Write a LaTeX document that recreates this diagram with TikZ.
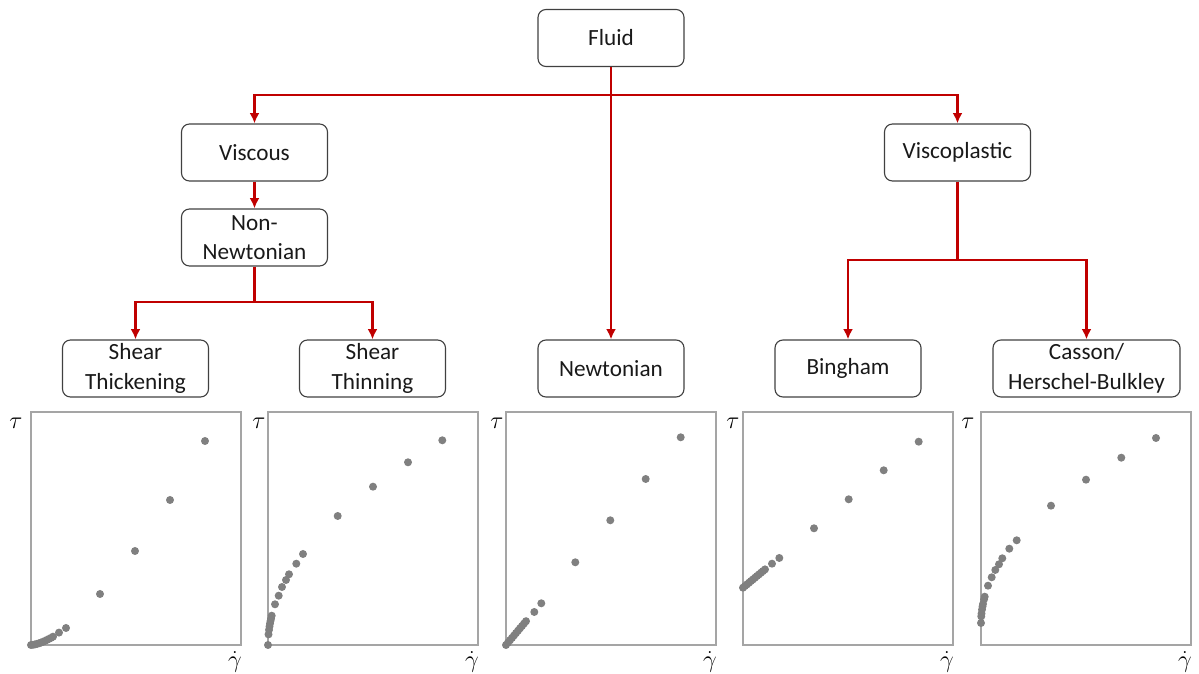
\documentclass[tikz,border=0pt]{standalone}
\usepackage{fontspec}
\setmainfont{Carlito}
\usetikzlibrary{arrows.meta}
\definecolor{branchred}{RGB}{192,0,0}
\definecolor{framegray}{RGB}{165,165,165}
\definecolor{dotgray}{RGB}{128,128,128}
\tikzset{
  box/.style={draw=black!75, line width=0.8pt, rounded corners=0.2cm,
    minimum width=3.65cm, minimum height=1.425cm, align=center, inner sep=1pt,
    font=\fontsize{16.5}{21}\selectfont, text=black!90},
  link/.style={draw=branchred, line width=1.9pt},
  tip/.style={link, -{Latex[length=2.6mm,width=2.5mm]}},
  frame/.style={draw=framegray, line width=1pt},
  dot/.style={fill=dotgray},
  axlabel/.style={font=\fontsize{18}{20}\selectfont, inner sep=0pt}
}
\begin{document}
\begin{tikzpicture}[x=0.025cm,y=0.025cm]
  \useasboundingbox (0,0) rectangle (1199,674);

  % tree of fluid types
  \node[box] (fluid) at (611,636) {Fluid};
  \node[box] (viscous) at (254.5,521.5) {Viscous};
  \node[box] (viscoplastic) at (957.5,521.5) {Viscoplastic};
  \node[box] (nonnewt) at (254.5,436.5) {Non-\\Newtonian};
  \node[box] (thicken) at (135.5,305.5) {Shear\\Thickening};
  \node[box] (thin) at (372.5,305.5) {Shear\\Thinning};
  \node[box] (newton) at (611,305.5) {Newtonian};
  \node[box] (bingham) at (848,305.5) {Bingham};
  \node[box,minimum width=4.675cm] (casson) at (1086.5,305.5) {Casson/\\Herschel-Bulkley};

  \coordinate (split) at (611,579);
  \coordinate (nsplit) at (254.5,372);
  \coordinate (vsplit) at (957.5,414);

  \draw[tip] (fluid.south) -- (newton.north);
  \draw[tip] (split) -| (viscous.north);
  \draw[tip] (split) -| (viscoplastic.north);
  \draw[tip] (viscous.south) -- (nonnewt.north);
  \draw[link] (nonnewt.south) -- (nsplit);
  \draw[tip] (nsplit) -| (thicken.north);
  \draw[tip] (nsplit) -| (thin.north);
  \draw[link] (viscoplastic.south) -- (vsplit);
  \draw[tip] (vsplit) -| (bingham.north);
  \draw[tip] (vsplit) -| (casson.north);

  % flow curves
  \begin{scope}[shift={(31,29)}]
    \draw[frame] (0,0) rectangle (210,233);
    \node[axlabel] (tau1) at (-15,222) {$\tau$};
    \node[axlabel] (gam1) at (204,-17) {$\dot\gamma$};
    \foreach \x/\y in {0/0,2/0.2,4/0.6,6/1.1,8/1.7,10/2.4,12/3.2,14/4.1,16/5.1,
        18/6.1,20/7.1,22/8.3,28/12.4,35/17,69/51,104/94,139/145,174/204}
      \fill[dot] (\x,\y) circle[radius=0.1cm];
  \end{scope}

  \begin{scope}[shift={(268,29)}]
    \draw[frame] (0,0) rectangle (210,233);
    \node[axlabel] (tau2) at (-9,222) {$\tau$};
    \node[axlabel] (gam2) at (204,-17) {$\dot\gamma$};
    \foreach \x/\y in {0/0,0.5/10.6,1/15.1,1.5/18.5,2/21.4,2.5/24,3/26.3,3.7/29.3,
        7/40.7,10.7/49.3,14/58,18/65,21/70.7,28.3/81.3,35/91,69.7/129,105/158.3,
        140/182.7,174.3/204.7}
      \fill[dot] (\x,\y) circle[radius=0.1cm];
  \end{scope}

  \begin{scope}[shift={(506,29)}]
    \draw[frame] (0,0) rectangle (210,233);
    \node[axlabel] (tau3) at (-9,222) {$\tau$};
    \node[axlabel] (gam3) at (204,-17) {$\dot\gamma$};
    \foreach \x/\y in {0/0,2/2.4,4/4.8,6/7.1,8/9.5,10/11.9,12/14.3,14/16.7,16/19,
        18/21.4,20/23.8,28.3/33,35.3/41.7,69.3/82.7,104.3/124.7,139.7/166,174.7/207.7}
      \fill[dot] (\x,\y) circle[radius=0.1cm];
  \end{scope}

  \begin{scope}[shift={(743,29)}]
    \draw[frame] (0,0) rectangle (210,233);
    \node[axlabel] (tau4) at (-10,222) {$\tau$};
    \node[axlabel] (gam4) at (204,-17) {$\dot\gamma$};
    \foreach \x/\y in {0/57.3,2/59,4/60.6,6/62.3,8/64,10/65.6,12/67.3,14/69,16/70.6,
        18/72.3,20/73.9,22/75.6,29/81.3,36.3/87,71/116.7,105.7/145.7,140.7/174.7,
        175.7/203.3}
      \fill[dot] (\x,\y) circle[radius=0.1cm];
  \end{scope}

  \begin{scope}[shift={(981,29)}]
    \draw[frame] (0,0) rectangle (210,233);
    \node[axlabel] (tau5) at (-13,222) {$\tau$};
    \node[axlabel] (gam5) at (204,-17) {$\dot\gamma$};
    \foreach \x/\y in {0/22,0.25/28.6,0.5/31.4,1/35.4,1.5/38.5,2/41,3/45.5,3.7/48.3,
        7/59.3,10.7/67.7,14.3/75,18/80.7,21.3/86.7,28.3/96.3,35.7/104.7,70/139.3,
        105/165.3,140.3/187.3,175/207}
      \fill[dot] (\x,\y) circle[radius=0.1cm];
  \end{scope}
\end{tikzpicture}
\end{document}
